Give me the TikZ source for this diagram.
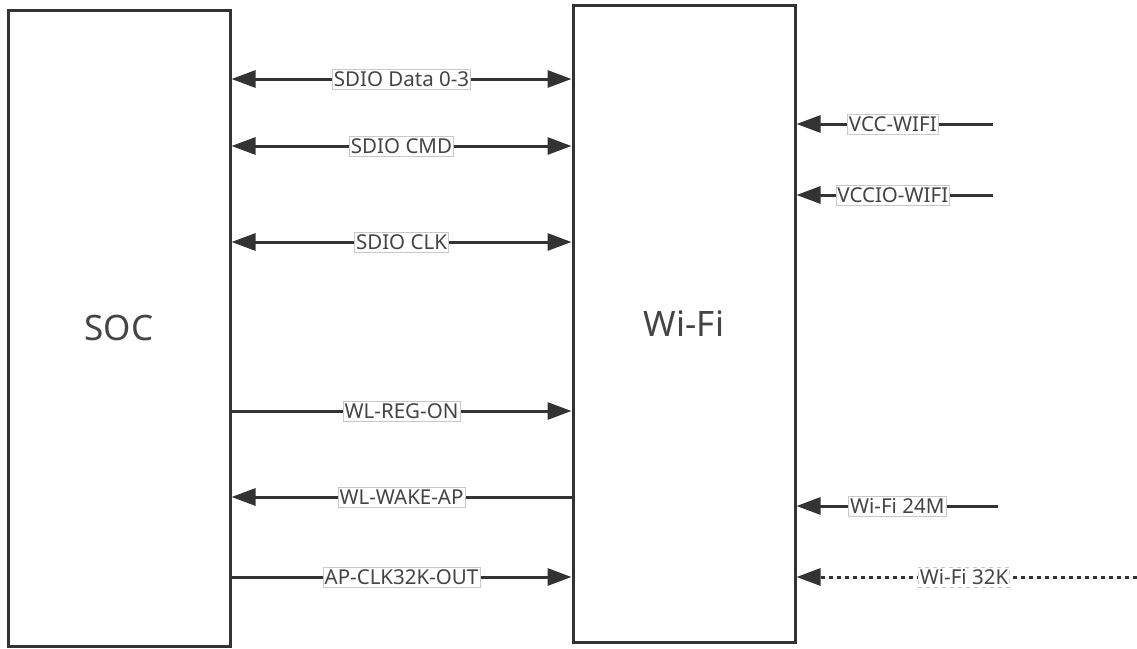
\documentclass[tikz,border=0pt]{standalone}
\usepackage{fontspec}
\setmainfont{Noto Sans}
\usetikzlibrary{arrows.meta}
\definecolor{ln}{HTML}{333333}
\definecolor{tx}{HTML}{444444}
\definecolor{bx}{HTML}{C8C8C8}
\begin{document}
\begin{tikzpicture}[x=1pt,y=-1pt,
  block/.style={draw=ln,line width=3pt,fill=white,minimum width=222pt,text=tx,font=\fontsize{35}{40}\selectfont,inner sep=0pt},
  sig/.style={draw=ln,line width=3pt},
  tip/.style={-{Triangle[length=24pt,width=17pt]}},
  both/.style={{Triangle[length=24pt,width=17pt]}-{Triangle[length=24pt,width=17pt]}},
  lbl/.style={draw=bx,line width=0.6pt,fill=white,text=tx,font=\fontsize{20.5}{24}\selectfont,inner xsep=1.5pt,inner ysep=2.5pt},
  dotline/.style={dash pattern=on 4pt off 4pt}]
\useasboundingbox (0,0) rectangle (1137,648);
\node[block,minimum height=636pt] (soc) at (119,328) {SOC};
\node[block,minimum height=637pt] (wifi) at (684,323.5) {Wi-Fi};
% left signals
\coordinate (yd) at (0,79);
\coordinate (yc) at (0,146);
\coordinate (yk) at (0,242);
\coordinate (yr) at (0,411);
\coordinate (yw) at (0,497);
\coordinate (y3) at (0,577);
\draw[sig,both] (soc.east |- yd) -- node[lbl] (ld) {SDIO Data 0-3} (wifi.west |- yd);
\draw[sig,both] (soc.east |- yc) -- node[lbl] (lc) {SDIO CMD} (wifi.west |- yc);
\draw[sig,both] (soc.east |- yk) -- node[lbl] (lk) {SDIO CLK} (wifi.west |- yk);
\draw[sig,tip] (soc.east |- yr) -- node[lbl] (lr) {WL-REG-ON} (wifi.west |- yr);
\draw[sig,tip] (wifi.west |- yw) -- node[lbl] (lw) {WL-WAKE-AP} (soc.east |- yw);
\draw[sig,tip] (soc.east |- y3) -- node[lbl] (l3) {AP-CLK32K-OUT} (wifi.west |- y3);
% right inputs
\coordinate (vcc) at (993,124);
\coordinate (vio) at (993,195);
\coordinate (m24) at (998,506);
\coordinate (k32) at (1137,577);
\draw[sig,tip] (vcc) -- node[lbl,pos=0.51] (lvcc) {VCC-WIFI} (wifi.east |- vcc);
\draw[sig,tip] (vio) -- node[lbl,pos=0.51] (lvio) {VCCIO-WIFI} (wifi.east |- vio);
\draw[sig,tip] (m24) -- node[lbl,pos=0.5] (lm24) {Wi-Fi 24M} (wifi.east |- m24);
\draw[sig,dotline,tip] (k32) -- node[lbl,pos=0.508] (lk32) {Wi-Fi 32K} (wifi.east |- k32);
\end{tikzpicture}
\end{document}
